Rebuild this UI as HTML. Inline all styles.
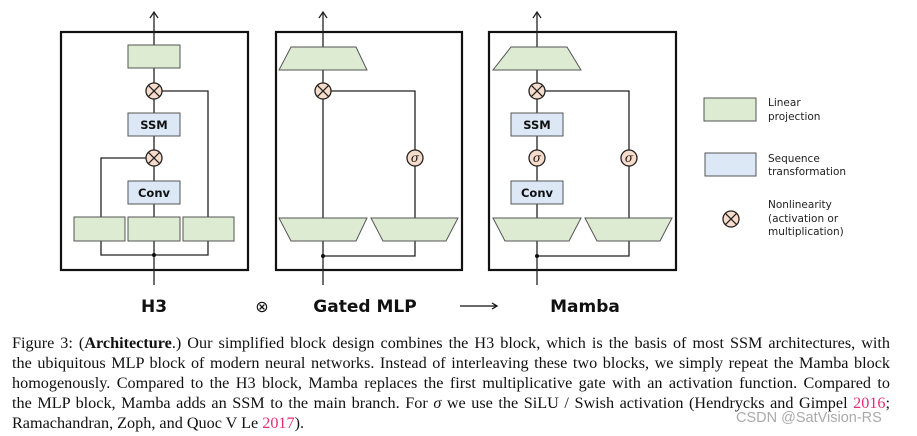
<!DOCTYPE html>
<html><head><meta charset="utf-8"><style>
body{margin:0;width:917px;height:436px;background:#fff;position:relative;overflow:hidden;font-family:"Liberation Serif",serif;}
svg{position:absolute;left:0;top:0}
.cap{position:absolute;left:12px;width:878px;font-size:16.2px;line-height:20px;color:#111;}
.cap div{text-align:justify;text-align-last:justify;white-space:nowrap;height:20px}
.cap div.last{text-align-last:left}
.pk{color:#e0307a}
.wm{position:absolute;left:736px;top:410px;font-family:"Liberation Sans",sans-serif;font-size:14.5px;color:#aaa;}
</style></head><body>
<svg width="917" height="436" viewBox="0 0 917 436" font-family="DejaVu Sans, sans-serif">
<g stroke="#111" stroke-width="2.2" fill="none">
<rect x="61" y="32" width="187" height="238"/>
<rect x="276" y="32" width="186" height="238"/>
<rect x="489" y="32" width="187" height="238"/>
</g>
<g stroke="#222" stroke-width="1.3" fill="none">
<line x1="154" y1="12" x2="154" y2="285"/>
<polyline points="101,217 101,158 154,158"/>
<polyline points="154,91 208,91 208,217"/>
<polyline points="101,241 101,255 208,255 208,241"/>
<line x1="323" y1="12" x2="323" y2="285"/>
<polyline points="323,91 415,91 415,218"/>
<polyline points="323,256 415,256 415,241"/>
<line x1="537" y1="12" x2="537" y2="285"/>
<polyline points="537,91 629,91 629,218"/>
<polyline points="537,256 629,256 629,241"/>
</g>
<g stroke="#222" stroke-width="1.3" fill="none">
<polyline points="150,18 154,12 158,18"/>
<polyline points="319,18 323,12 327,18"/>
<polyline points="533,18 537,12 541,18"/>
</g>
<g fill="#111"><circle cx="154" cy="255" r="2"/><circle cx="323" cy="256" r="2"/><circle cx="537" cy="256" r="2"/></g>
<g fill="#dcebd2" stroke="#555" stroke-width="1">
<rect x="128" y="45" width="52" height="23"/>
<rect x="74" y="217" width="51" height="24"/>
<rect x="128" y="217" width="52" height="24"/>
<rect x="183" y="217" width="51" height="24"/>
<polygon points="291,47 356,47 367,70 279,70"/>
<polygon points="279,218 367,218 356,241 291,241"/>
<polygon points="371,218 458,218 446,241 383,241"/>
<polygon points="511,47 567,47 581,70 493,70"/>
<polygon points="493,218 581,218 569,241 505,241"/>
<polygon points="585,218 672,218 660,241 597,241"/>
<rect x="704" y="98" width="52" height="23"/>
</g>
<g fill="#dce8f5" stroke="#555" stroke-width="1">
<rect x="128" y="113" width="52" height="23"/>
<rect x="128" y="181" width="52" height="23"/>
<rect x="511" y="113" width="52" height="23"/>
<rect x="511" y="181" width="52" height="23"/>
<rect x="705" y="153" width="51" height="23"/>
</g>
<g font-weight="bold" font-size="11.5" fill="#111" text-anchor="middle">
<text x="154" y="129">SSM</text><text x="154" y="197">Conv</text>
<text x="537" y="129">SSM</text><text x="537" y="197">Conv</text>
</g>
<g stroke="#222" stroke-width="1.3">
<g fill="#f7dccb">
<circle cx="154" cy="91" r="8"/><circle cx="154" cy="158" r="8"/>
<circle cx="323" cy="91" r="8"/><circle cx="537" cy="91" r="8"/>
<circle cx="731" cy="219" r="8"/>
<circle cx="415" cy="158" r="8"/><circle cx="537" cy="158" r="8"/><circle cx="629" cy="158" r="8"/>
</g>
<path d="M148.3,85.3l11.4,11.4M159.7,85.3l-11.4,11.4M148.3,152.3l11.4,11.4M159.7,152.3l-11.4,11.4M317.3,85.3l11.4,11.4M328.7,85.3l-11.4,11.4M531.3,85.3l11.4,11.4M542.7,85.3l-11.4,11.4M725.3,213.3l11.4,11.4M736.7,213.3l-11.4,11.4" fill="none"/>
</g>
<g font-family="DejaVu Serif, serif" font-style="italic" font-size="12" fill="#111" text-anchor="middle">
<text x="415" y="162">σ</text><text x="537" y="162">σ</text><text x="629" y="162">σ</text>
</g>
<g font-size="10.5" fill="#222">
<text x="768" y="106">Linear</text><text x="768" y="120">projection</text>
<text x="768" y="162">Sequence</text><text x="768" y="175">transformation</text>
<text x="768" y="208">Nonlinearity</text><text x="768" y="222">(activation or</text><text x="768" y="235">multiplication)</text>
</g>
<g font-size="17" font-weight="bold" fill="#111" text-anchor="middle">
<text x="154" y="312">H3</text>
<text x="365" y="312">Gated MLP</text>
<text x="585" y="312">Mamba</text>
</g>
<text x="262" y="312" font-size="16" text-anchor="middle" fill="#111">⊗</text>
<g stroke="#111" stroke-width="1.3" fill="none">
<line x1="460" y1="306" x2="497" y2="306"/><polyline points="492,303 497,306 492,309"/>
</g>
</svg>
<div class="cap" style="top:333px">
<div>Figure 3: (<b>Architecture</b>.) Our simplified block design combines the H3 block, which is the basis of most SSM architectures, with</div>
<div>the ubiquitous MLP block of modern neural networks. Instead of interleaving these two blocks, we simply repeat the Mamba block</div>
<div>homogenously. Compared to the H3 block, Mamba replaces the first multiplicative gate with an activation function. Compared to</div>
<div>the MLP block, Mamba adds an SSM to the main branch. For <i>σ</i> we use the SiLU / Swish activation (Hendrycks and Gimpel <span class="pk">2016</span>;</div>
<div class="last">Ramachandran, Zoph, and Quoc V Le <span class="pk">2017</span>).</div>
</div>
<div class="wm">CSDN @SatVision-RS</div>
</body></html>
